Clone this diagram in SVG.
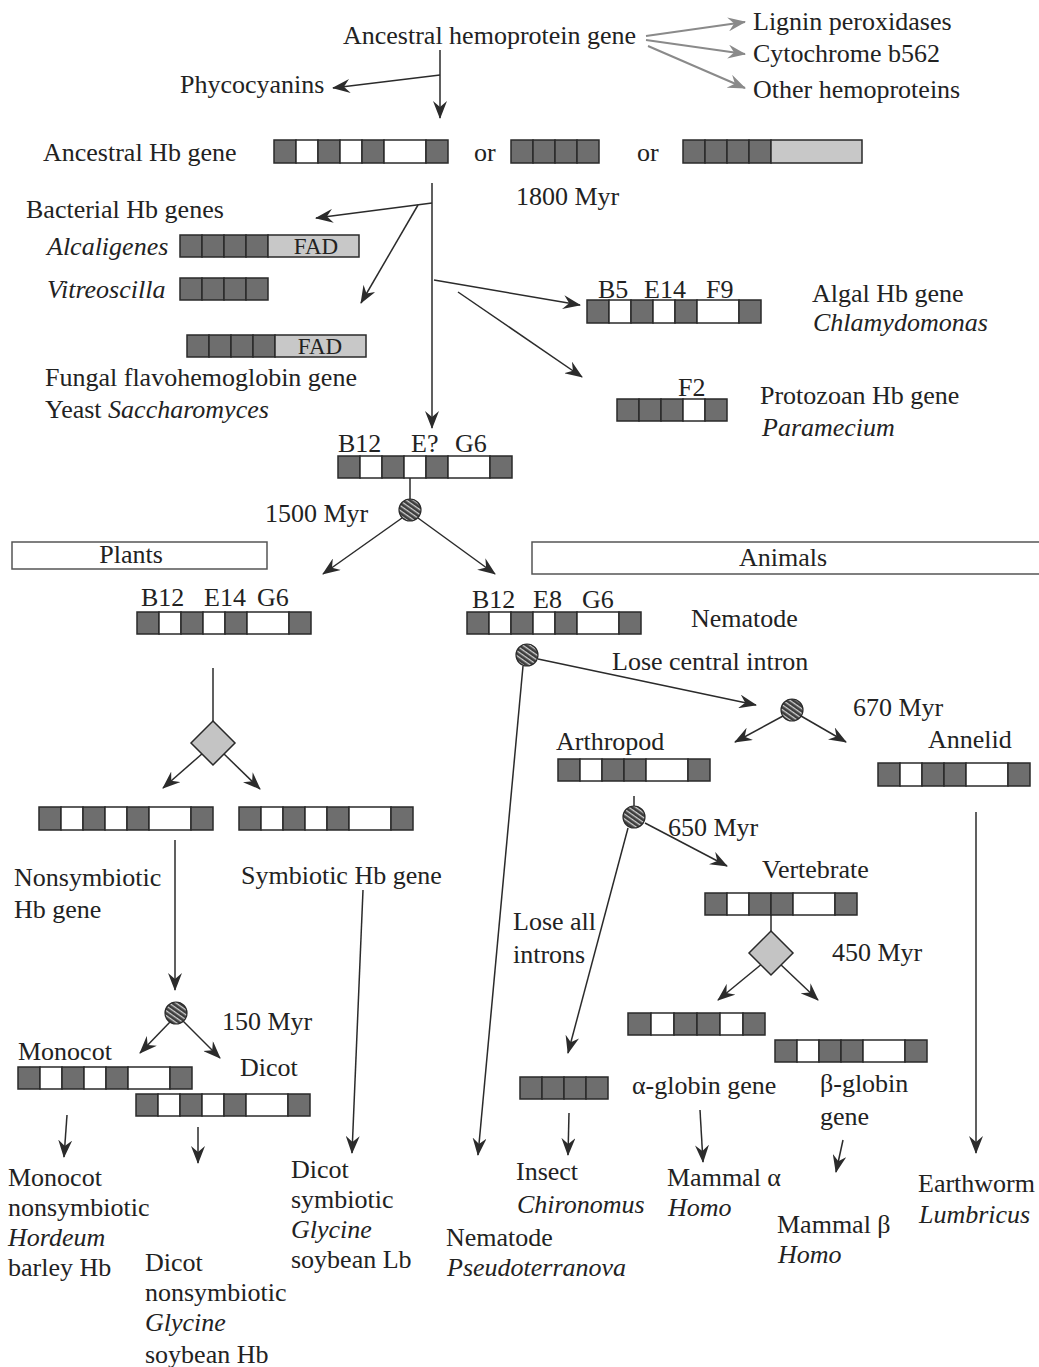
<svg xmlns="http://www.w3.org/2000/svg" width="1039" height="1367" viewBox="0 0 1039 1367">
<defs>
<marker id="ah" viewBox="0 0 18 14" refX="17" refY="7" markerWidth="18" markerHeight="14" markerUnits="userSpaceOnUse" orient="auto">
<path d="M0,0 L18,7 L0,14 L6,7 Z" fill="#2b2b2b"/>
</marker>
<marker id="ahg" viewBox="0 0 18 14" refX="17" refY="7" markerWidth="18" markerHeight="14" markerUnits="userSpaceOnUse" orient="auto">
<path d="M0,0 L18,7 L0,14 L6,7 Z" fill="#8a8a8a"/>
</marker>
<pattern id="hatch" patternUnits="userSpaceOnUse" width="4" height="4" patternTransform="rotate(35)">
<rect width="4" height="4" fill="#3d3d3d"/>
<rect width="4" height="1.3" fill="#d0d0d0"/>
</pattern>
</defs>
<style>
text{font-family:"Liberation Serif","Times New Roman",serif;font-size:26px;fill:#222}
.i{font-style:italic}
.fad{font-size:23px}
.d{fill:#6e6e6e;stroke:#2a2a2a;stroke-width:1.5}
.w{fill:#fff;stroke:#2a2a2a;stroke-width:1.5}
.g{fill:#c8c8c8;stroke:#2a2a2a;stroke-width:1.5}
.c line{stroke:#2b2b2b;stroke-width:1.5}
.c .a{marker-end:url(#ah)}
.c .gr{stroke:#8a8a8a;stroke-width:2;marker-end:url(#ahg)}
.hc{fill:url(#hatch);stroke:#2a2a2a;stroke-width:1.2}
.dm{fill:#c4c4c4;stroke:#2a2a2a;stroke-width:1.5}
.box{fill:#fff;stroke:#555;stroke-width:1.5}
</style>

<g id="connectors" class="c">
<line class="gr" x1="646" y1="36" x2="745" y2="22"/>
<line class="gr" x1="646" y1="40" x2="745" y2="54"/>
<line class="gr" x1="648" y1="46" x2="745" y2="88"/>
<line class="a" x1="440" y1="50" x2="440" y2="118"/>
<line class="a" x1="440" y1="75" x2="333" y2="88"/>
<line class="a" x1="432" y1="183" x2="432" y2="428"/>
<line class="a" x1="432" y1="203" x2="316" y2="218"/>
<line class="a" x1="418" y1="205" x2="361" y2="303"/>
<line class="a" x1="434" y1="280" x2="580" y2="305"/>
<line class="a" x1="458" y1="292" x2="582" y2="377"/>
<line x1="410" y1="478" x2="410" y2="499"/>
<line class="a" x1="402" y1="518" x2="323" y2="574"/>
<line class="a" x1="418" y1="518" x2="495" y2="574"/>
<line class="a" x1="523" y1="666" x2="478" y2="1155"/>
<line class="a" x1="538" y1="659" x2="756" y2="705"/>
<line class="a" x1="783" y1="716" x2="735" y2="742"/>
<line class="a" x1="801" y1="716" x2="846" y2="742"/>
<line x1="634" y1="796" x2="634" y2="806"/>
<line class="a" x1="628" y1="828" x2="568" y2="1053"/>
<line class="a" x1="645" y1="823" x2="727" y2="866"/>
<line x1="771" y1="915" x2="771" y2="931"/>
<line class="a" x1="763" y1="963" x2="718" y2="1000"/>
<line class="a" x1="779" y1="963" x2="818" y2="1000"/>
<line class="a" x1="976" y1="812" x2="976" y2="1153"/>
<line class="a" x1="569" y1="1113" x2="568" y2="1155"/>
<line class="a" x1="700" y1="1110" x2="703" y2="1162"/>
<line class="a" x1="843" y1="1140" x2="836" y2="1172"/>
<line x1="213" y1="668" x2="213" y2="721"/>
<line class="a" x1="203" y1="753" x2="163" y2="788"/>
<line class="a" x1="223" y1="753" x2="260" y2="789"/>
<line class="a" x1="175" y1="840" x2="175" y2="990"/>
<line class="a" x1="363" y1="890" x2="352" y2="1153"/>
<line class="a" x1="170" y1="1022" x2="140" y2="1053"/>
<line class="a" x1="183" y1="1021" x2="220" y2="1058"/>
<line class="a" x1="67" y1="1115" x2="64" y2="1157"/>
<line class="a" x1="198" y1="1127" x2="198" y2="1163"/>
</g>

<g id="hemoprotein"><text x="343" y="44">Ancestral hemoprotein gene</text></g>
<g id="lignin"><text x="753" y="30">Lignin peroxidases</text></g>
<g id="cytb562"><text x="753" y="62">Cytochrome b562</text></g>
<g id="otherhemo"><text x="753" y="98">Other hemoproteins</text></g>
<g id="phycocyanins"><text x="180" y="93">Phycocyanins</text></g>

<g id="ancestral-hb">
<text x="43" y="161">Ancestral Hb gene</text>
<rect class="d" x="274" y="140" width="22" height="23"/><rect class="w" x="296" y="140" width="22" height="23"/><rect class="d" x="318" y="140" width="22" height="23"/><rect class="w" x="340" y="140" width="22" height="23"/><rect class="d" x="362" y="140" width="22" height="23"/><rect class="w" x="384" y="140" width="42" height="23"/><rect class="d" x="426" y="140" width="22" height="23"/>
<text x="474" y="161">or</text>
<rect class="d" x="511" y="140" width="22" height="23"/><rect class="d" x="533" y="140" width="22" height="23"/><rect class="d" x="555" y="140" width="22" height="23"/><rect class="d" x="577" y="140" width="22" height="23"/>
<text x="637" y="161">or</text>
<rect class="d" x="683" y="140" width="22" height="23"/><rect class="d" x="705" y="140" width="22" height="23"/><rect class="d" x="727" y="140" width="22" height="23"/><rect class="d" x="749" y="140" width="22" height="23"/><rect class="g" x="771" y="140" width="91" height="23"/>
<text x="516" y="205">1800 Myr</text>
</g>

<g id="bacterial">
<text x="26" y="218">Bacterial Hb genes</text>
<text class="i" x="47" y="255">Alcaligenes</text>
<rect class="d" x="180" y="235" width="22" height="22"/><rect class="d" x="202" y="235" width="22" height="22"/><rect class="d" x="224" y="235" width="22" height="22"/><rect class="d" x="246" y="235" width="22" height="22"/><rect class="g" x="268" y="235" width="91" height="22"/>
<text class="fad" x="316" y="254" text-anchor="middle">FAD</text>
<text class="i" x="47" y="298">Vitreoscilla</text>
<rect class="d" x="180" y="278" width="22" height="22"/><rect class="d" x="202" y="278" width="22" height="22"/><rect class="d" x="224" y="278" width="22" height="22"/><rect class="d" x="246" y="278" width="22" height="22"/>
</g>

<g id="fungal">
<rect class="d" x="187" y="335" width="22" height="22"/><rect class="d" x="209" y="335" width="22" height="22"/><rect class="d" x="231" y="335" width="22" height="22"/><rect class="d" x="253" y="335" width="22" height="22"/><rect class="g" x="275" y="335" width="91" height="22"/>
<text class="fad" x="320" y="354" text-anchor="middle">FAD</text>
<text x="45" y="386">Fungal flavohemoglobin gene</text>
<text x="45" y="418">Yeast <tspan class="i">Saccharomyces</tspan></text>
</g>

<g id="algal">
<text x="598" y="298">B5</text><text x="644" y="298">E14</text><text x="706" y="298">F9</text>
<rect class="d" x="587" y="300" width="22" height="23"/><rect class="w" x="609" y="300" width="22" height="23"/><rect class="d" x="631" y="300" width="22" height="23"/><rect class="w" x="653" y="300" width="22" height="23"/><rect class="d" x="675" y="300" width="22" height="23"/><rect class="w" x="697" y="300" width="42" height="23"/><rect class="d" x="739" y="300" width="22" height="23"/>
<text x="812" y="302">Algal Hb gene</text>
<text class="i" x="813" y="331">Chlamydomonas</text>
</g>

<g id="protozoan">
<text x="678" y="396">F2</text>
<rect class="d" x="617" y="399" width="22" height="22"/><rect class="d" x="639" y="399" width="22" height="22"/><rect class="d" x="661" y="399" width="22" height="22"/><rect class="w" x="683" y="399" width="22" height="22"/><rect class="d" x="705" y="399" width="22" height="22"/>
<text x="760" y="404">Protozoan Hb gene</text>
<text class="i" x="762" y="436">Paramecium</text>
</g>

<g id="common-ancestor">
<text x="338" y="452">B12</text><text x="411" y="452">E?</text><text x="455" y="452">G6</text>
<rect class="d" x="338" y="456" width="22" height="22"/><rect class="w" x="360" y="456" width="22" height="22"/><rect class="d" x="382" y="456" width="22" height="22"/><rect class="w" x="404" y="456" width="22" height="22"/><rect class="d" x="426" y="456" width="22" height="22"/><rect class="w" x="448" y="456" width="42" height="22"/><rect class="d" x="490" y="456" width="22" height="22"/>
<circle class="hc" cx="410" cy="510" r="11"/>
<text x="265" y="522">1500 Myr</text>
</g>

<g id="plants-header">
<rect class="box" x="12" y="542" width="255" height="27"/>
<text x="131" y="563" text-anchor="middle">Plants</text>
</g>
<g id="animals-header">
<rect class="box" x="532" y="542" width="512" height="32"/>
<text x="783" y="566" text-anchor="middle">Animals</text>
</g>

<g id="plant-gene">
<text x="141" y="606">B12</text><text x="204" y="606">E14</text><text x="257" y="606">G6</text>
<rect class="d" x="137" y="612" width="22" height="22"/><rect class="w" x="159" y="612" width="22" height="22"/><rect class="d" x="181" y="612" width="22" height="22"/><rect class="w" x="203" y="612" width="22" height="22"/><rect class="d" x="225" y="612" width="22" height="22"/><rect class="w" x="247" y="612" width="42" height="22"/><rect class="d" x="289" y="612" width="22" height="22"/>
<polygon class="dm" points="213,721 235,743 213,765 191,743"/>
</g>

<g id="nematode-gene">
<text x="472" y="608">B12</text><text x="533" y="608">E8</text><text x="582" y="608">G6</text>
<rect class="d" x="467" y="612" width="22" height="22"/><rect class="w" x="489" y="612" width="22" height="22"/><rect class="d" x="511" y="612" width="22" height="22"/><rect class="w" x="533" y="612" width="22" height="22"/><rect class="d" x="555" y="612" width="22" height="22"/><rect class="w" x="577" y="612" width="42" height="22"/><rect class="d" x="619" y="612" width="22" height="22"/>
<text x="691" y="627">Nematode</text>
<circle class="hc" cx="527" cy="655" r="11"/>
<text x="612" y="670">Lose central intron</text>
</g>

<g id="split-670">
<circle class="hc" cx="792" cy="710" r="11"/>
<text x="853" y="716">670 Myr</text>
</g>

<g id="arthropod">
<text x="556" y="750">Arthropod</text>
<rect class="d" x="558" y="759" width="22" height="22"/><rect class="w" x="580" y="759" width="22" height="22"/><rect class="d" x="602" y="759" width="22" height="22"/><rect class="d" x="624" y="759" width="22" height="22"/><rect class="w" x="646" y="759" width="42" height="22"/><rect class="d" x="688" y="759" width="22" height="22"/>
<circle class="hc" cx="634" cy="817" r="11"/>
<text x="668" y="836">650 Myr</text>
<text x="513" y="930">Lose all</text>
<text x="513" y="963">introns</text>
</g>

<g id="annelid">
<text x="928" y="748">Annelid</text>
<rect class="d" x="878" y="763" width="22" height="23"/><rect class="w" x="900" y="763" width="22" height="23"/><rect class="d" x="922" y="763" width="22" height="23"/><rect class="d" x="944" y="763" width="22" height="23"/><rect class="w" x="966" y="763" width="42" height="23"/><rect class="d" x="1008" y="763" width="22" height="23"/>
</g>

<g id="vertebrate">
<text x="762" y="878">Vertebrate</text>
<rect class="d" x="705" y="893" width="22" height="22"/><rect class="w" x="727" y="893" width="22" height="22"/><rect class="d" x="749" y="893" width="22" height="22"/><rect class="d" x="771" y="893" width="22" height="22"/><rect class="w" x="793" y="893" width="42" height="22"/><rect class="d" x="835" y="893" width="22" height="22"/>
<polygon class="dm" points="771,931 793,953 771,975 749,953"/>
<text x="832" y="961">450 Myr</text>
</g>

<g id="alpha-gene">
<rect class="d" x="628" y="1013" width="23" height="22"/><rect class="w" x="651" y="1013" width="23" height="22"/><rect class="d" x="674" y="1013" width="23" height="22"/><rect class="d" x="697" y="1013" width="23" height="22"/><rect class="w" x="720" y="1013" width="23" height="22"/><rect class="d" x="743" y="1013" width="22" height="22"/>
<text x="632" y="1094">α-globin gene</text>
</g>

<g id="beta-gene">
<rect class="d" x="775" y="1040" width="22" height="22"/><rect class="w" x="797" y="1040" width="22" height="22"/><rect class="d" x="819" y="1040" width="22" height="22"/><rect class="d" x="841" y="1040" width="22" height="22"/><rect class="w" x="863" y="1040" width="42" height="22"/><rect class="d" x="905" y="1040" width="22" height="22"/>
<text x="820" y="1092">β-globin</text>
<text x="820" y="1125">gene</text>
</g>

<g id="insect-gene">
<rect class="d" x="520" y="1077" width="22" height="22"/><rect class="d" x="542" y="1077" width="22" height="22"/><rect class="d" x="564" y="1077" width="22" height="22"/><rect class="d" x="586" y="1077" width="22" height="22"/>
</g>

<g id="insect"><text x="516" y="1180">Insect</text><text class="i" x="517" y="1213">Chironomus</text></g>
<g id="mammal-alpha"><text x="667" y="1186">Mammal α</text><text class="i" x="668" y="1216">Homo</text></g>
<g id="mammal-beta"><text x="777" y="1233">Mammal β</text><text class="i" x="778" y="1263">Homo</text></g>
<g id="earthworm"><text x="918" y="1192">Earthworm</text><text class="i" x="919" y="1223">Lumbricus</text></g>
<g id="nematode-species"><text x="446" y="1246">Nematode</text><text class="i" x="447" y="1276">Pseudoterranova</text></g>

<g id="plant-nonsym-gene">
<rect class="d" x="39" y="807" width="22" height="23"/><rect class="w" x="61" y="807" width="22" height="23"/><rect class="d" x="83" y="807" width="22" height="23"/><rect class="w" x="105" y="807" width="22" height="23"/><rect class="d" x="127" y="807" width="22" height="23"/><rect class="w" x="149" y="807" width="42" height="23"/><rect class="d" x="191" y="807" width="22" height="23"/>
<text x="14" y="886">Nonsymbiotic</text>
<text x="14" y="918">Hb gene</text>
</g>

<g id="plant-sym-gene">
<rect class="d" x="239" y="807" width="22" height="23"/><rect class="w" x="261" y="807" width="22" height="23"/><rect class="d" x="283" y="807" width="22" height="23"/><rect class="w" x="305" y="807" width="22" height="23"/><rect class="d" x="327" y="807" width="22" height="23"/><rect class="w" x="349" y="807" width="42" height="23"/><rect class="d" x="391" y="807" width="22" height="23"/>
<text x="241" y="884">Symbiotic Hb gene</text>
</g>

<g id="split-150">
<circle class="hc" cx="176" cy="1013" r="11"/>
<text x="222" y="1030">150 Myr</text>
</g>

<g id="monocot">
<text x="18" y="1060">Monocot</text>
<rect class="d" x="18" y="1067" width="22" height="22"/><rect class="w" x="40" y="1067" width="22" height="22"/><rect class="d" x="62" y="1067" width="22" height="22"/><rect class="w" x="84" y="1067" width="22" height="22"/><rect class="d" x="106" y="1067" width="22" height="22"/><rect class="w" x="128" y="1067" width="42" height="22"/><rect class="d" x="170" y="1067" width="22" height="22"/>
</g>

<g id="dicot">
<text x="240" y="1076">Dicot</text>
<rect class="d" x="136" y="1094" width="22" height="22"/><rect class="w" x="158" y="1094" width="22" height="22"/><rect class="d" x="180" y="1094" width="22" height="22"/><rect class="w" x="202" y="1094" width="22" height="22"/><rect class="d" x="224" y="1094" width="22" height="22"/><rect class="w" x="246" y="1094" width="42" height="22"/><rect class="d" x="288" y="1094" width="22" height="22"/>
</g>

<g id="monocot-species">
<text x="8" y="1186">Monocot</text>
<text x="8" y="1216">nonsymbiotic</text>
<text class="i" x="8" y="1246">Hordeum</text>
<text x="8" y="1276">barley Hb</text>
</g>
<g id="dicot-nonsym-species">
<text x="145" y="1271">Dicot</text>
<text x="145" y="1301">nonsymbiotic</text>
<text class="i" x="145" y="1331">Glycine</text>
<text x="145" y="1363">soybean Hb</text>
</g>
<g id="dicot-sym-species">
<text x="291" y="1178">Dicot</text>
<text x="291" y="1208">symbiotic</text>
<text class="i" x="291" y="1238">Glycine</text>
<text x="291" y="1268">soybean Lb</text>
</g>
</svg>
